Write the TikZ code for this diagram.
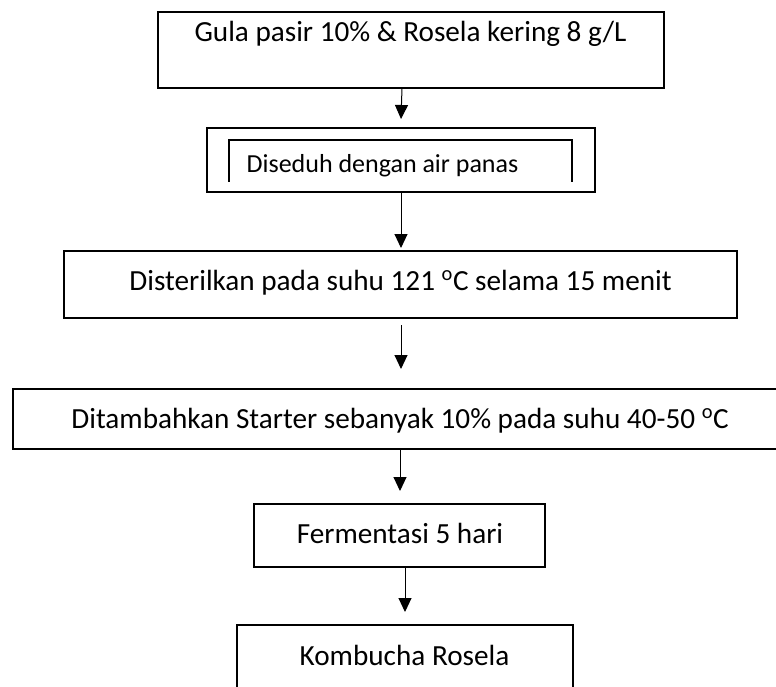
\documentclass[tikz,border=0pt]{standalone}
\usepackage{fontspec}
\setmainfont{Carlito}
\usetikzlibrary{arrows.meta}
\tikzset{
  boxline/.style={line width=1.4pt, draw=black},
  arr/.style={line width=1pt, -{Triangle[width=13pt,length=14pt]}},
  lbl/.style={anchor=base, inner sep=0pt, font=\fontsize{29.2}{35}\selectfont},
  lbls/.style={anchor=base, inner sep=0pt, font=\fontsize{26}{31}\selectfont},
}
\begin{document}
\begin{tikzpicture}[x=1pt,y=-1pt]
\clip (0,0) rectangle (776,687);
\fill[white] (0,0) rectangle (776,687);
% boxes
\draw[boxline] (158,12) rectangle (664,88);
\coordinate (b1s) at (402,88);
\draw[boxline] (207,128) rectangle (595,192);
\draw[boxline] (229,182) -- (229,140) -- (572,140) -- (572,182);
\coordinate (b2n) at (401,119);
\coordinate (b2s) at (401,192);
\draw[boxline] (64,251) rectangle (737,318);
\coordinate (b3n) at (401,248);
\coordinate (b3s) at (401,325);
\draw[boxline] (13,389) rectangle (790,449);
\coordinate (b4n) at (401,369);
\coordinate (b4s) at (400,449);
\draw[boxline] (254,504) rectangle (545,567);
\coordinate (b5n) at (400,491);
\coordinate (b5s) at (405,567);
\draw[boxline] (237,625) rectangle (573,700);
\coordinate (b6n) at (405,612);
% texts
\node[lbl] (t1) at (410.5,42) {Gula pasir 10\% \& Rosela kering 8 g/L};
\node[lbls] (t2) at (382.5,173) {Diseduh dengan air panas};
\node[lbl] (t3) at (400.5,290) {Disterilkan pada suhu 121 \textsuperscript{o}C selama 15 menit};
\node[lbl] (t4) at (400,428) {Ditambahkan Starter sebanyak 10\% pada suhu 40-50 \textsuperscript{o}C};
\node[lbl] (t5) at (400,543) {Fermentasi 5 hari};
\node[lbl] (t6) at (404.5,665) {Kombucha Rosela};
% arrows
\draw[arr] (b1s) -- (b2n);
\draw[arr] (b2s) -- (b3n);
\draw[arr] (b3s) -- (b4n);
\draw[arr] (b4s) -- (b5n);
\draw[arr] (b5s) -- (b6n);
\end{tikzpicture}
\end{document}
